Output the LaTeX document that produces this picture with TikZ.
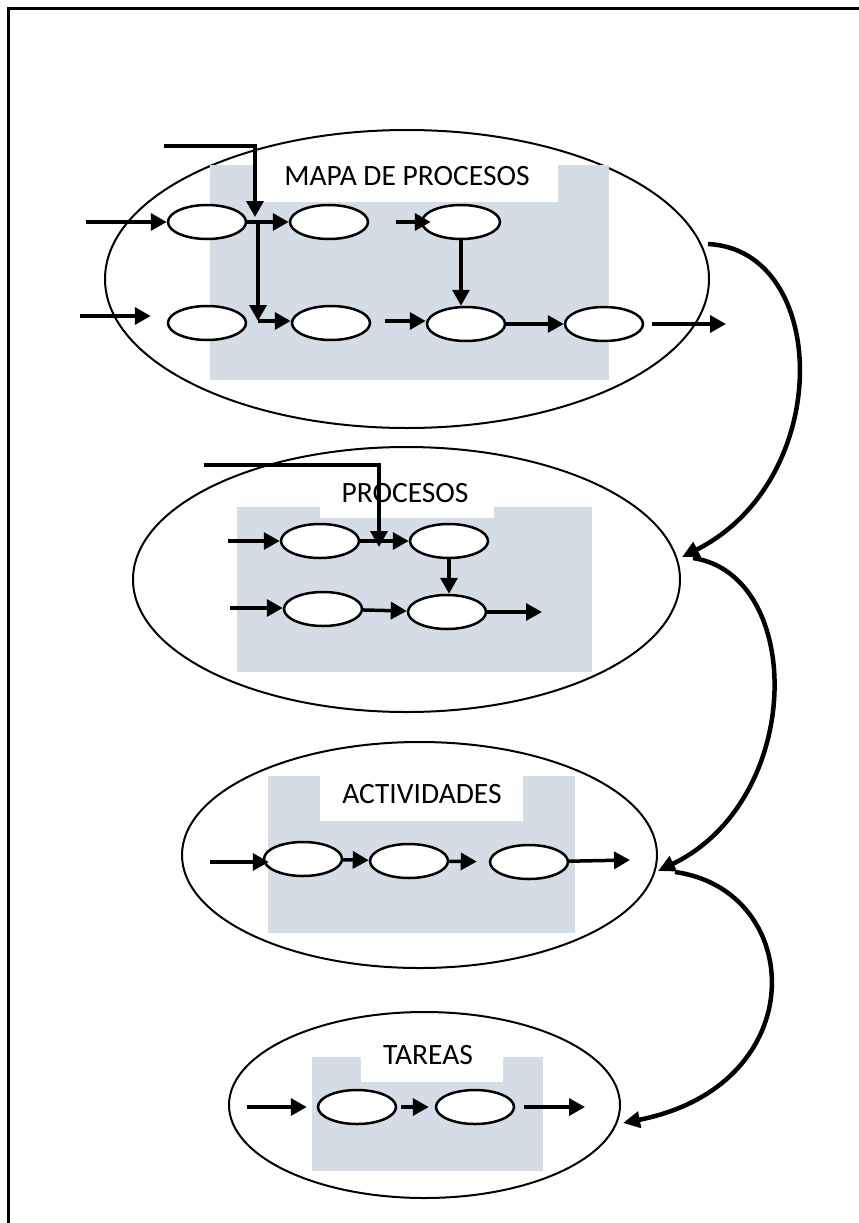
\documentclass[tikz,border=0pt]{standalone}
\usepackage{fontspec}
\setmainfont{Carlito}
\usetikzlibrary{shapes.geometric,arrows.meta}
\definecolor{panel}{HTML}{D6DCE5}
\begin{document}
\begin{tikzpicture}[x=1pt,y=-1pt,
  shell/.style={draw, ellipse, line width=2pt, inner sep=0pt},
  act/.style={draw, ellipse, line width=2.5pt, fill=white, minimum width=78pt, minimum height=34pt, inner sep=0pt},
  title/.style={font=\fontsize{29.5}{34}\selectfont, inner sep=0pt},
  arr/.style={line width=3.5pt, -{Triangle[length=16pt,width=17pt]}},
  link/.style={line width=4.5pt, -{Triangle[length=17pt,width=16pt]}}]
\useasboundingbox (0,0) rectangle (859,1223);
% page frame
\draw[line width=3pt] (8,1223) -- (8,9) -- (859,9);

% ---------- level 1: process map ----------
\node[shell, minimum width=604pt, minimum height=298pt] (L1) at (407,279) {};
\fill[panel] (210,165) rectangle (609,380);
\fill[white] (253,165) rectangle (558,202);
\node[title] (T1) at (407,176) {MAPA DE PROCESOS};
\node[act] (a1) at (207,222) {};
\node[act] (a2) at (329,222) {};
\node[act] (a3) at (461,222) {};
\node[act] (b1) at (207,323) {};
\node[act] (b2) at (331,323) {};
\node[act] (b3) at (466,324) {};
\node[act] (b4) at (604,324) {};
\coordinate (m-in1) at (86,222);
\coordinate (m-in2) at (80,316);
\coordinate (m-fd) at (164,146);
\coordinate (m-fdtip) at (255,217);
\coordinate (m-j1) at (258,224);
\coordinate (m-j2) at (258,321);
\coordinate (m-a3in) at (396,222);
\coordinate (m-b3in) at (385,321);
\coordinate (m-out) at (726,324);
\draw[arr] (m-in1) -- (a1);
\draw[arr, shorten >=16pt] (m-in2) -- (m-in2 -| b1.west);
\draw[arr] (m-fd) -| (m-fdtip);
\draw[arr] (a1) -- (a2);
\draw[arr] (m-j1) -- (m-j2);
\draw[arr] (m-j2) -- (m-j2 -| b2.west);
\draw[arr, shorten >=-10pt] (m-a3in) -- (m-a3in -| a3.west);
\draw[arr] (a3.south) -- (a3.south |- b3.north);
\draw[arr] (m-b3in) -- (m-b3in -| b3.west);
\draw[arr] (b3) -- (b4);
\draw[arr, shorten <=8pt] (b4) -- (m-out);

% ---------- level 2: processes ----------
\node[shell, minimum width=547pt, minimum height=265pt] (L2) at (406.5,579.5) {};
\fill[panel] (237,507) rectangle (592,672);
\fill[white] (320,507) rectangle (494,518);
\node[title] (T2) at (405,493) {PROCESOS};
\node[act] (p1) at (320,541) {};
\node[act] (p2) at (449,541) {};
\node[act] (q1) at (323,609) {};
\node[act] (q2) at (447,612) {};
\coordinate (p-in1) at (228,541);
\coordinate (p-in2) at (230,608);
\coordinate (p-fd) at (204,465);
\coordinate (p-fdtip) at (379,547);
\coordinate (p-out) at (542,612);
\draw[arr] (p-in1) -- (p1);
\draw[arr] (p-fd) -| (p-fdtip);
\draw[arr] (p1) -- (p2);
\draw[arr] (p2.south) -- (p2.south |- q2.north);
\draw[arr] (p-in2) -- (p-in2 -| q1.west);
\draw[arr] (q1) -- (q2);
\draw[arr] (q2) -- (p-out);

% ---------- level 3: activities ----------
\node[shell, minimum width=475pt, minimum height=226pt] (L3) at (419.5,855) {};
\fill[panel] (268,776) rectangle (575,933);
\fill[white] (320,776) rectangle (523,821);
\node[title] (T3) at (422,794) {ACTIVIDADES};
\node[act] (r1) at (303,859) {};
\node[act] (r2) at (409,861) {};
\node[act] (r3) at (529,862) {};
\coordinate (ac-in) at (210,862);
\coordinate (ac-out) at (630,860);
\draw[arr, shorten >=-6pt] (ac-in) -- (ac-in -| r1.west);
\draw[arr] (r1) -- (r2);
\draw[arr, shorten >=12pt] (r2) -- (r3);
\draw[arr] (r3) -- (ac-out);

% ---------- level 4: tasks ----------
\node[shell, minimum width=391pt, minimum height=186pt] (L4) at (424.5,1105) {};
\fill[panel] (312,1057) rectangle (543,1171);
\fill[white] (361,1057) rectangle (503,1082);
\node[title] (T4) at (428,1055) {TAREAS};
\node[act] (t1) at (357,1107) {};
\node[act] (t2) at (475,1107) {};
\coordinate (t-in) at (247,1107);
\coordinate (t-out) at (585,1107);
\draw[arr, shorten >=10pt] (t-in) -- (t1);
\draw[arr, shorten <=4pt, shorten >=6pt] (t1) -- (t2);
\draw[arr, shorten <=9pt] (t2) -- (t-out);

% ---------- links between levels ----------
\coordinate (k1s) at (708,244);
\coordinate (k1e) at (682,557);
\coordinate (k2s) at (693,558);
\coordinate (k2e) at (658,871);
\coordinate (k3s) at (675,872);
\coordinate (k3e) at (623,1123);
\draw[link] (k1s) .. controls (830,250) and (835,480) .. (k1e);
\draw[link] (k2s) .. controls (805,575) and (805,800) .. (k2e);
\draw[link] (k3s) .. controls (805,890) and (815,1085) .. (k3e);
\end{tikzpicture}
\end{document}
